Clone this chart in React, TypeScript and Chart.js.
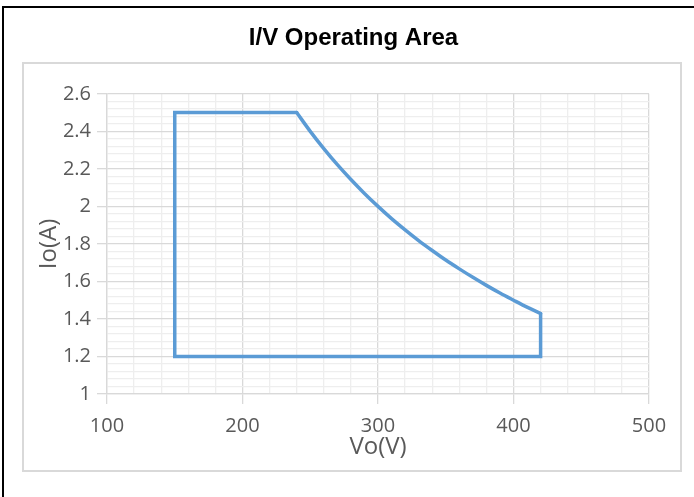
import React, { useEffect, useRef } from 'react';
import { Chart, registerables } from 'chart.js';

Chart.register(...registerables);

const chartTitle = 'I/V Operating Area';
const xAxisTitle = 'Vo(V)';
const yAxisTitle = 'Io(A)';

// Straight edges of the operating area (Vo in volts, Io in amps)
const edgeVoltage = [420, 420, 150, 150, 240];
const edgeCurrent = [1.429, 1.2, 1.2, 2.5, 2.5];

// Constant-power boundary
const curveVoltage = [240, 250, 260, 270, 280, 290, 300, 310, 320, 330, 340, 350, 360, 370, 380, 390, 400, 410, 420];
const curveCurrent = [2.5, 2.4, 2.308, 2.222, 2.143, 2.069, 2.0, 1.935, 1.875, 1.818, 1.765, 1.714, 1.667, 1.622, 1.579, 1.538, 1.5, 1.463, 1.429];

const xTickLabels = [100, 200, 300, 400, 500];
const yTickLabels = [1, 1.2, 1.4, 1.6, 1.8, 2, 2.2, 2.4, 2.6];
const xMinorStep = 20;
const yMinorStep = 0.04;

const MAJOR = '#d9d9d9';
const MINOR = '#eeeeee';
const TEXT = '#595959';
const LINE = '#5b9bd5';

const isMajor = (v: number, labels: number[]) => labels.some((l) => Math.abs(l - v) < 1e-6);

export default function App() {
  const ref = useRef<HTMLCanvasElement | null>(null);

  useEffect(() => {
    if (!ref.current) return;
    const chart = new Chart(ref.current, {
      type: 'scatter',
      data: {
        datasets: [
          {
            data: edgeVoltage.map((v, i) => ({ x: v, y: edgeCurrent[i] })),
            showLine: true,
            borderColor: LINE,
            borderWidth: 3.5,
            pointRadius: 0,
            fill: false,
            tension: 0,
            borderJoinStyle: 'miter',
            borderCapStyle: 'round',
          },
          {
            data: curveVoltage.map((v, i) => ({ x: v, y: curveCurrent[i] })),
            showLine: true,
            borderColor: LINE,
            borderWidth: 3.5,
            pointRadius: 0,
            fill: false,
            cubicInterpolationMode: 'monotone',
            borderCapStyle: 'round',
          },
        ],
      },
      options: {
        animation: false,
        responsive: false,
        layout: { padding: { left: 13, right: 0, top: 0, bottom: 0 } },
        plugins: {
          legend: { display: false },
          tooltip: { enabled: false },
          title: {
            display: true,
            text: chartTitle,
            color: '#000',
            font: { family: '"Liberation Sans", Arial, sans-serif', size: 24, weight: 'bold' },
            padding: { top: 24, bottom: 41 },
          },
        },
        scales: {
          x: {
            type: 'linear',
            min: 100,
            max: 500,
            afterFit: (s: any) => {
              s.height = 103;
            },
            ticks: {
              stepSize: xMinorStep,
              autoSkip: false,
              maxRotation: 0,
              padding: 10,
              color: TEXT,
              font: { family: '"Open Sans", sans-serif', size: 20 },
              callback: (v: any) => (isMajor(Number(v), xTickLabels) ? String(Math.round(Number(v))) : ''),
            },
            grid: {
              color: (c: any) => (isMajor(c.tick.value, xTickLabels) ? MAJOR : MINOR),
              tickColor: (c: any) => (isMajor(c.tick.value, xTickLabels) ? MAJOR : 'rgba(0,0,0,0)'),
              tickLength: 10,
              lineWidth: 1.3,
            },
            border: { color: MAJOR, width: 1.3 },
            title: {
              display: true,
              text: xAxisTitle,
              color: TEXT,
              font: { family: '"Open Sans", sans-serif', size: 24 },
              padding: { top: 0, bottom: 35.5 },
            },
          },
          y: {
            type: 'linear',
            min: 1,
            max: 2.6,
            afterFit: (s: any) => {
              s.width = 94;
            },
            ticks: {
              stepSize: yMinorStep,
              autoSkip: false,
              padding: 6,
              color: TEXT,
              font: { family: '"Open Sans", sans-serif', size: 20 },
              callback: (v: any) =>
                isMajor(Number(v), yTickLabels) ? String(Math.round(Number(v) * 10) / 10) : '',
            },
            grid: {
              color: (c: any) => (isMajor(c.tick.value, yTickLabels) ? MAJOR : MINOR),
              tickColor: (c: any) => (isMajor(c.tick.value, yTickLabels) ? MAJOR : 'rgba(0,0,0,0)'),
              tickLength: 10,
              lineWidth: 1.3,
            },
            border: { color: MAJOR, width: 1.3 },
            title: {
              display: true,
              text: yAxisTitle,
              color: TEXT,
              font: { family: '"Open Sans", sans-serif', size: 24 },
              padding: { top: 21.5, bottom: 0 },
            },
          },
          spacer: {
            type: 'linear',
            position: 'right',
            min: 0,
            max: 1,
            afterFit: (s: any) => {
              s.width = 45;
            },
            ticks: { display: false },
            grid: { display: false, drawTicks: false },
            border: { display: false },
          },
        },
      },
    } as any);
    return () => chart.destroy();
  }, []);

  return (
    <div style={{ position: 'absolute', left: 0, top: 0, width: 694, height: 497, background: '#fff', overflow: 'hidden' }}>
      <div
        style={{
          position: 'absolute',
          left: 2,
          top: 6,
          width: 720,
          height: 520,
          borderTop: '2px solid #000',
          borderLeft: '2px solid #000',
          boxSizing: 'border-box',
        }}
      />
      <div
        style={{
          position: 'absolute',
          left: 22,
          top: 62,
          width: 660,
          height: 410,
          border: '2px solid #d9d9d9',
          boxSizing: 'border-box',
        }}
      />
      <canvas ref={ref} width={694} height={497} style={{ position: 'absolute', left: 0, top: 0 }} />
    </div>
  );
}
